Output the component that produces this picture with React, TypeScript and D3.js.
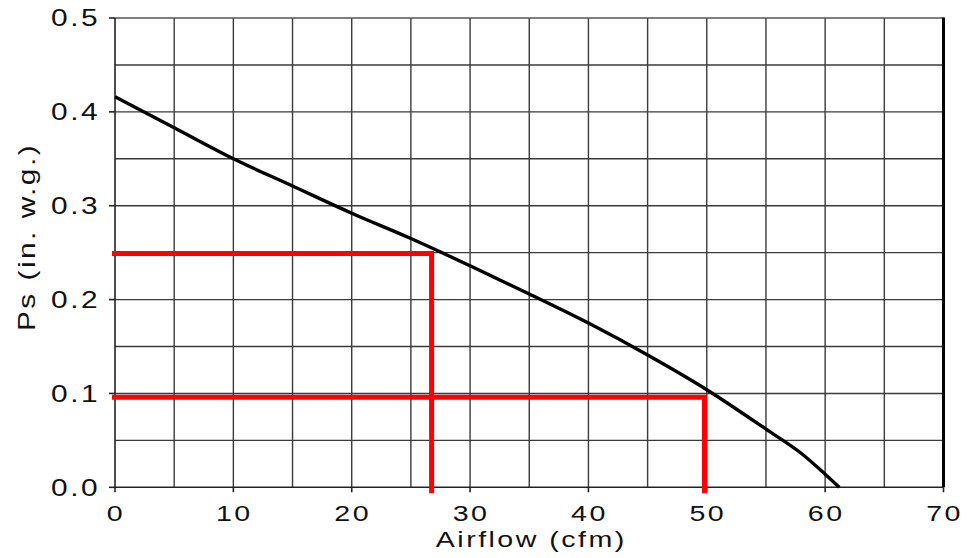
import React from "react";
import * as d3 from "d3";

// fan curve
const flow = [0, 5, 10, 15, 20, 25, 30, 35, 40, 45, 50, 55, 58, 60, 61.2];
const ps = [0.416, 0.383, 0.35, 0.321, 0.292, 0.265, 0.236, 0.206, 0.175, 0.141, 0.104, 0.062, 0.036, 0.014, 0];

// operating points (red guides)
const opFlow = [26.75, 49.8];
const opPs = [0.249, 0.096];

const xTicks = [0, 10, 20, 30, 40, 50, 60, 70];
const yTicks = [0, 0.1, 0.2, 0.3, 0.4, 0.5];
const xGrid = d3.range(5, 70, 5);
const yGrid = d3.range(0.05, 0.5, 0.05);

const W = 972;
const H = 558;
const FONT = "'Liberation Sans', Arial, sans-serif";
const SX = 1.3; // text in the source is wide
const LS = 1.9;

export default function App() {
  const x = d3.scaleLinear().domain([0, 70]).range([115, 943.5]);
  const y = d3.scaleLinear().domain([0, 0.5]).range([487.3, 18]);

  const line = d3
    .line<number>()
    .x((d, i) => x(flow[i]))
    .y((d) => y(d))
    .curve(d3.curveMonotoneX);

  const gridColor = "#3a3a3a";

  return (
    <svg
      width={W}
      height={H}
      style={{ position: "absolute", left: 0, top: 0, background: "#fff" }}
    >
      {/* grid */}
      {xGrid.map((v) => (
        <line key={"gx" + v} x1={x(v)} x2={x(v)} y1={y(0.5)} y2={y(0)} stroke={gridColor} strokeWidth={1.4} />
      ))}
      {yGrid.map((v) => (
        <line key={"gy" + v} x1={x(0)} x2={x(70)} y1={y(v)} y2={y(v)} stroke={gridColor} strokeWidth={1.4} />
      ))}
      {/* frame */}
      <line x1={x(0)} x2={x(70)} y1={y(0.5)} y2={y(0.5)} stroke="#555" strokeWidth={1.6} />
      <line x1={x(0)} x2={x(70)} y1={y(0)} y2={y(0)} stroke="#222" strokeWidth={1.6} />
      <line x1={x(0)} x2={x(0)} y1={y(0.5)} y2={y(0)} stroke="#222" strokeWidth={1.6} />
      <line x1={x(70)} x2={x(70)} y1={y(0.5) - 0.5} y2={y(0)} stroke="#000" strokeWidth={3} />

      {/* ticks */}
      {yTicks.map((v) => (
        <line key={"ty" + v} x1={x(0) - 6} x2={x(0)} y1={y(v)} y2={y(v)} stroke="#222" strokeWidth={1.6} />
      ))}
      {xTicks.map((v) => (
        <line key={"tx" + v} x1={x(v)} x2={x(v)} y1={y(0)} y2={y(0) + 5} stroke="#222" strokeWidth={1.6} />
      ))}

      {/* red guides */}
      {opFlow.map((f, i) => (
        <path
          key={"op" + i}
          d={`M${x(0) - 3},${y(opPs[i])}H${x(f)}V${y(0) + 6}`}
          fill="none"
          stroke="#fe0000"
          strokeWidth={5}
        />
      ))}

      {/* curve */}
      <path d={line(ps) || ""} fill="none" stroke="#000" strokeWidth={3.4} strokeLinejoin="round" />

      {/* tick labels */}
      {yTicks.map((v) => (
        <text
          key={"ly" + v}
          transform={`translate(${100},${y(v)}) scale(${SX},1)`}
          textAnchor="end"
          dy="0.36em"
          fontFamily={FONT}
          fontSize={23}
          letterSpacing={LS}
          fill="#111"
        >
          {v.toFixed(1)}
        </text>
      ))}
      {xTicks.map((v) => (
        <text
          key={"lx" + v}
          transform={`translate(${x(v) + 1},${521}) scale(${SX},1)`}
          textAnchor="middle"
          fontFamily={FONT}
          fontSize={22}
          letterSpacing={LS}
          fill="#111"
        >
          {v}
        </text>
      ))}

      {/* axis titles */}
      <text
        transform={`translate(${x(35) + 2},${547}) scale(${SX},1)`}
        textAnchor="middle"
        fontFamily={FONT}
        fontSize={22}
        letterSpacing={LS}
        fill="#111"
      >
        Airflow (cfm)
      </text>
      <text
        transform={`translate(${35},${237}) rotate(-90) scale(${SX},1)`}
        textAnchor="middle"
        fontFamily={FONT}
        fontSize={23}
        letterSpacing={LS}
        fill="#111"
      >
        Ps (in. w.g.)
      </text>
    </svg>
  );
}
